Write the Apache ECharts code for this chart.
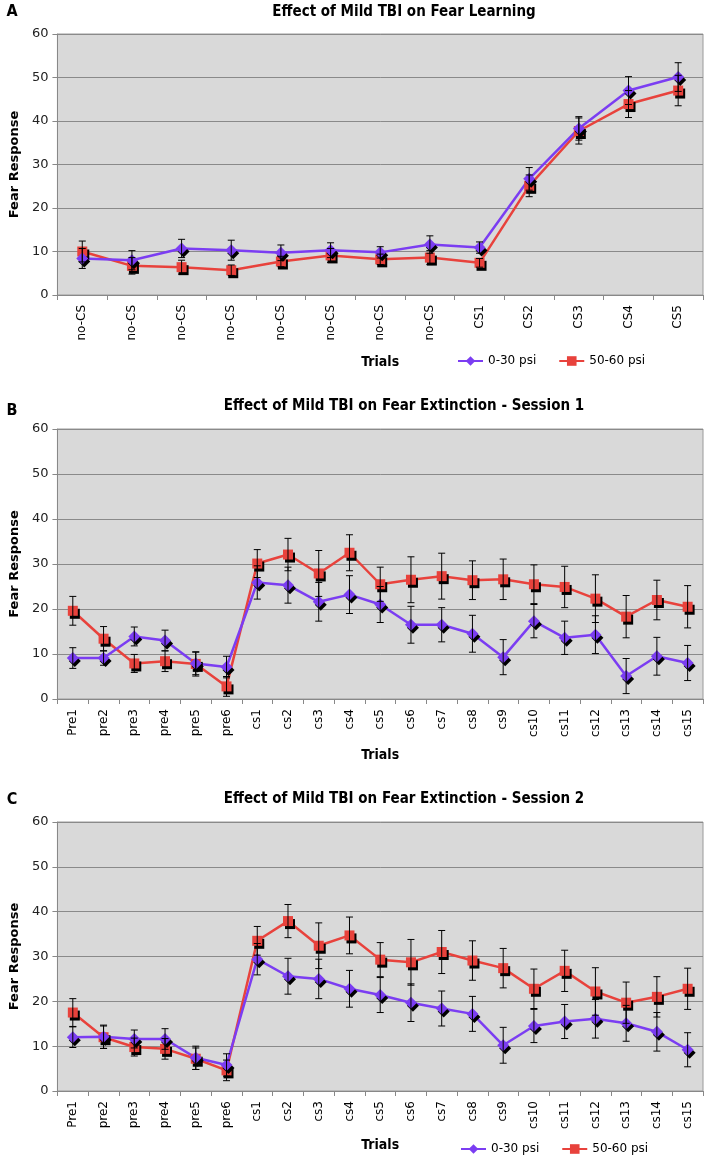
<!DOCTYPE html>
<html><head><meta charset="utf-8">
<script src="https://cdn.jsdelivr.net/npm/echarts@6/dist/echarts.min.js"></script>
<style>html,body{margin:0;padding:0;background:#fff}#c{width:708px;height:1155px}</style>
</head><body><div id="c"></div>
<script>
// ---------- data ----------
const yTicks = [0, 10, 20, 30, 40, 50, 60];
const seriesNames = ['0-30 psi', '50-60 psi'];

const catsA = ['no-CS','no-CS','no-CS','no-CS','no-CS','no-CS','no-CS','no-CS','CS1','CS2','CS3','CS4','CS5'];
const lowA     = [8.4, 8.0, 10.7, 10.3, 9.7, 10.3, 9.8, 11.6, 10.9, 26.7, 38.3, 47.0, 50.1];
const lowErrA  = [2.3, 2.2, 2.1, 2.3, 1.8, 1.7, 1.3, 2.0, 1.3, 2.6, 2.7, 3.2, 3.3];
const highA    = [10.0, 6.7, 6.4, 5.7, 7.7, 9.1, 8.2, 8.6, 7.4, 25.1, 37.7, 43.9, 47.0];
const highErrA = [2.4, 1.9, 1.6, 1.2, 1.2, 1.6, 1.2, 1.6, 1.0, 2.5, 3.0, 3.1, 3.5];

const catsBC = ['Pre1','pre2','pre3','pre4','pre5','pre6','cs1','cs2','cs3','cs4','cs5','cs6','cs7','cs8','cs9','cs10','cs11','cs12','cs13','cs14','cs15'];

const lowB     = [9.1, 9.1, 13.9, 13.0, 7.9, 7.1, 25.9, 25.3, 21.6, 23.2, 21.0, 16.5, 16.5, 14.5, 9.3, 17.3, 13.6, 14.3, 5.1, 9.5, 8.0];
const lowErrB  = [2.3, 1.6, 2.1, 2.3, 2.5, 2.4, 3.7, 4.0, 4.3, 4.2, 4.0, 4.1, 3.8, 4.1, 3.9, 3.7, 3.7, 4.2, 3.9, 4.2, 3.9];
const highB    = [19.6, 13.4, 7.9, 8.4, 7.8, 2.8, 30.1, 32.1, 27.9, 32.5, 25.5, 26.5, 27.3, 26.4, 26.6, 25.5, 24.9, 22.3, 18.3, 22.0, 20.5];
const highErrB = [3.2, 2.7, 2.0, 2.3, 2.7, 2.2, 3.1, 3.6, 5.1, 4.0, 3.8, 5.1, 5.1, 4.3, 4.5, 4.3, 4.6, 5.3, 4.7, 4.4, 4.7];

const lowC     = [12.0, 12.1, 11.6, 11.6, 7.4, 5.8, 29.4, 25.6, 25.0, 22.8, 21.4, 19.7, 18.4, 17.2, 10.2, 14.5, 15.5, 16.1, 15.1, 13.2, 9.2];
const lowErrC  = [2.3, 2.6, 2.0, 2.3, 2.6, 2.5, 3.5, 4.0, 4.4, 4.1, 3.9, 4.2, 3.9, 3.9, 4.0, 3.7, 3.8, 4.3, 4.0, 4.3, 3.8];
const highC    = [17.5, 12.0, 9.8, 9.4, 7.2, 4.6, 33.5, 37.9, 32.4, 34.7, 29.3, 28.7, 31.0, 29.1, 27.4, 22.8, 26.8, 22.2, 19.7, 21.0, 22.8];
const highErrC = [3.1, 2.5, 2.0, 2.3, 2.4, 2.3, 3.2, 3.7, 5.1, 4.1, 3.8, 5.1, 4.8, 4.4, 4.4, 4.4, 4.6, 5.3, 4.6, 4.5, 4.6];

// ---------- style ----------
const PURPLE = '#7B3DF2';
const RED = '#E8423C';
const FONT = 'DejaVu Sans, Verdana, sans-serif';
const TFONT = 'DejaVu Sans Condensed, DejaVu Sans, sans-serif';

const panels = [
  {cats: catsA, low: lowA, lowErr: lowErrA, high: highA, highErr: highErrA, left: 48, top: 34, h: 261, gap: 60},
  {cats: catsBC, low: lowB, lowErr: lowErrB, high: highB, highErr: highErrB, left: 49, top: 429, h: 270, gap: 49},
  {cats: catsBC, low: lowC, lowErr: lowErrC, high: highC, highErr: highErrC, left: 48, top: 822, h: 269, gap: 47}
];

const grids = [], xAxes = [], yAxes = [], series = [];
panels.forEach((p, i) => {
  grids.push({left: p.left, right: 5, top: p.top, height: p.h, show: true,
    backgroundColor: '#D9D9D9', borderColor: '#9a9a9a', borderWidth: 1, containLabel: false});
  xAxes.push({type: 'category', gridIndex: i, data: p.cats, boundaryGap: true,
    name: 'Trials', nameLocation: 'middle', nameGap: p.gap,
    nameTextStyle: {fontFamily: TFONT, fontWeight: 'bold', fontSize: 14, color: '#000'},
    axisLine: {lineStyle: {color: '#888', width: 1}},
    axisTick: {show: true, length: 5, alignWithLabel: false, lineStyle: {color: '#888'}},
    axisLabel: {rotate: 90, interval: 0, margin: 10, fontFamily: FONT, fontSize: 12, color: '#000'},
    splitLine: {show: false}});
  yAxes.push({type: 'value', gridIndex: i, min: yTicks[0], max: yTicks[yTicks.length - 1],
    interval: yTicks[1] - yTicks[0],
    name: 'Fear Response', nameLocation: 'middle', nameGap: 29,
    nameTextStyle: {fontFamily: FONT, fontWeight: 'bold', fontSize: 13, color: '#000'},
    axisLine: {show: true, lineStyle: {color: '#888', width: 1}},
    axisTick: {show: true, length: 5, lineStyle: {color: '#888'}},
    axisLabel: {margin: 9, fontFamily: FONT, fontSize: 13, color: '#222'},
    splitLine: {show: true, lineStyle: {color: '#8a8a8a', width: 1}}});
  const mk = (name, data, color, symbol, size) => ({
    type: 'line', name, xAxisIndex: i, yAxisIndex: i, data, z: 3,
    symbol, symbolSize: size, showAllSymbol: true,
    lineStyle: {color, width: 2.5},
    itemStyle: {color, shadowColor: '#000', shadowBlur: 0, shadowOffsetX: 2, shadowOffsetY: 3},
    emphasis: {disabled: true}, animation: false
  });
  series.push(mk(seriesNames[1], p.high, RED, 'rect', 10));
  series.push(mk(seriesNames[0], p.low, PURPLE, 'diamond', 12));
  const err = (vals, errs) => ({
    type: 'custom', xAxisIndex: i, yAxisIndex: i, z: 5, silent: true, animation: false,
    data: vals.map((v, k) => [k, v, errs[k]]),
    encode: {x: 0, y: 1},
    renderItem: (params, api) => {
      const x = api.value(0), v = api.value(1), e = api.value(2);
      const t = api.coord([x, v + e]), b = api.coord([x, v - e]);
      const w = 3.5, st = {stroke: '#000', lineWidth: 1};
      return {type: 'group', children: [
        {type: 'line', shape: {x1: t[0], y1: t[1], x2: b[0], y2: b[1]}, style: st},
        {type: 'line', shape: {x1: t[0] - w, y1: t[1], x2: t[0] + w, y2: t[1]}, style: st},
        {type: 'line', shape: {x1: b[0] - w, y1: b[1], x2: b[0] + w, y2: b[1]}, style: st}
      ]};
    }
  });
  series.push(err(p.high, p.highErr));
  series.push(err(p.low, p.lowErr));
});

const txt = (x, y, text, size, align) => ({type: 'text', x, y,
  style: {text, fontFamily: TFONT, fontWeight: 'bold', fontSize: size, fill: '#000',
    textAlign: align || 'center', textVerticalAlign: 'middle'}});

const legendBase = {data: seriesNames, orient: 'horizontal', itemWidth: 25, itemHeight: 12,
  itemGap: 22, selectedMode: false,
  textStyle: {fontFamily: FONT, fontSize: 12, color: '#000'}};

const chart = echarts.init(document.getElementById('c'), null, {renderer: 'canvas'});
chart.setOption({
  animation: false,
  backgroundColor: '#fff',
  grid: grids, xAxis: xAxes, yAxis: yAxes, series,
  legend: [
    Object.assign({}, legendBase, {left: 452, top: 350}),
    Object.assign({}, legendBase, {left: 455, top: 1138})
  ],
  graphic: [
    txt(12, 12, 'A', 16),
    txt(404, 12, 'Effect of Mild TBI on Fear Learning', 15),
    txt(12, 411, 'B', 16),
    txt(404, 406, 'Effect of Mild TBI on Fear Extinction - Session 1', 15),
    txt(12, 800, 'C', 16),
    txt(404, 799, 'Effect of Mild TBI on Fear Extinction - Session 2', 15)
  ]
});
</script></body></html>
